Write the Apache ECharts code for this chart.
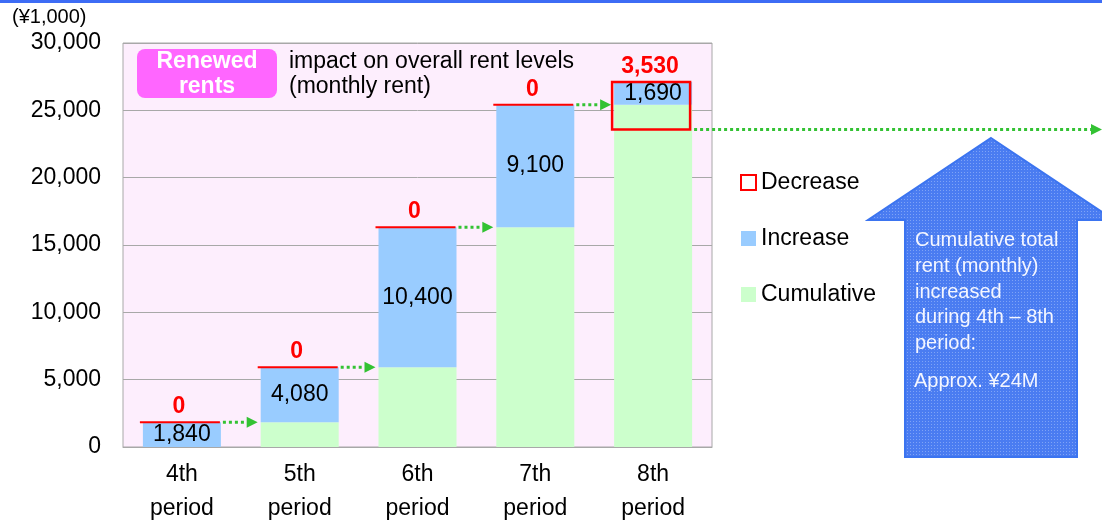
<!DOCTYPE html>
<html>
<head>
<meta charset="utf-8">
<script src="https://cdn.jsdelivr.net/npm/echarts@6/dist/echarts.min.js"></script>
<style>
  html, body { margin: 0; padding: 0; background: #fff; }
  #chart { width: 1102px; height: 524px; }
</style>
</head>
<body>
<div id="chart"></div>
<script>
// данные графика
const periods = ['4th\nperiod', '5th\nperiod', '6th\nperiod', '7th\nperiod', '8th\nperiod'];
const cumulative = [0, 1840, 5920, 16320, 25420];
const increase = [1840, 4080, 10400, 9100, 1690];
const decrease = [0, 0, 0, 0, 3530];
const yTicks = [0, 5000, 10000, 15000, 20000, 25000, 30000];

const FONT = '"Liberation Sans", Arial, sans-serif';
const FS = 23;
const GREEN_ARROW = '#33c233';
const BAR_W = 78;

function fmt(v) {
    return String(v).replace(/\B(?=(\d{3})+(?!\d))/g, ',');
}

const tops = cumulative.map((c, i) => c + increase[i]);

// текстура для большой синей стрелки
function makePattern() {
    const c = document.createElement('canvas');
    c.width = 3; c.height = 3;
    const ctx = c.getContext('2d');
    ctx.fillStyle = '#4a7cf1';
    ctx.fillRect(0, 0, 3, 3);
    ctx.fillStyle = '#7ea3f6';
    ctx.fillRect(1, 1, 1, 1);
    return c;
}

const chart = echarts.init(document.getElementById('chart'), null, { renderer: 'canvas' });

// красные маркеры уменьшения (линия или рамка) с подписью сверху
function renderDecrease(params, api) {
    const idx = api.value(0);
    const top = api.value(1);
    const dec = api.value(2);
    const p = api.coord([idx, top]);
    const x0 = p[0] - BAR_W / 2;
    const children = [];
    if (dec === 0) {
        children.push({
            type: 'line',
            shape: { x1: x0 - 3, y1: p[1], x2: x0 + BAR_W - 1, y2: p[1] },
            style: { stroke: '#ff0000', lineWidth: 2 }
        });
    } else {
        const pb = api.coord([idx, top - dec]);
        children.push({
            type: 'rect',
            shape: { x: x0 - 2, y: p[1], width: BAR_W, height: pb[1] - p[1] },
            style: { stroke: '#ff0000', lineWidth: 2.5, fill: 'none' }
        });
    }
    children.push({
        type: 'text',
        style: {
            text: fmt(dec), x: p[0] - 3, y: p[1] - 4,
            align: 'center', verticalAlign: 'bottom',
            fill: '#ff0000', font: 'bold ' + FS + 'px ' + FONT
        }
    });
    return { type: 'group', children: children };
}

// зелёные пунктирные стрелки между столбцами
function renderArrow(params, api) {
    const idx = api.value(0);
    const level = api.value(1);
    const p = api.coord([idx, level]);
    const xs = p[0] + BAR_W / 2 + 2;
    let xe;
    if (idx < periods.length - 1) {
        xe = api.coord([idx + 1, level])[0] - BAR_W / 2 - 3;
    } else {
        xe = 1102;
    }
    const head = 11;
    return {
        type: 'group',
        children: [
            {
                type: 'line',
                shape: { x1: xs, y1: p[1], x2: xe - head, y2: p[1] },
                style: { stroke: GREEN_ARROW, lineWidth: 3, lineDash: [3, 3] }
            },
            {
                type: 'polygon',
                shape: { points: [[xe - head, p[1] - 5.5], [xe, p[1]], [xe - head, p[1] + 5.5]] },
                style: { fill: GREEN_ARROW }
            }
        ]
    };
}

const decData = periods.map((_, i) => [i, tops[i], decrease[i]]);
const arrowData = periods.map((_, i) => [i, tops[i] - decrease[i]]);

const option = {
    animation: false,
    textStyle: { fontFamily: FONT },
    grid: {
        left: 123, right: 390, top: 43, bottom: 77,
        outerBoundsMode: 'none',
        show: true, backgroundColor: '#fdeefd', borderColor: '#a8a8a8', borderWidth: 1
    },
    legend: {
        orient: 'vertical', left: 735, top: 166, itemGap: 33,
        itemWidth: 15, itemHeight: 15,
        textStyle: { fontSize: FS, color: '#000', fontFamily: FONT },
        data: [
            { name: 'Decrease', icon: 'rect', itemStyle: { color: '#ffffff', borderColor: '#ff0000', borderWidth: 2 } },
            { name: 'Increase', icon: 'rect' },
            { name: 'Cumulative', icon: 'rect' }
        ]
    },
    xAxis: {
        type: 'category',
        data: periods,
        axisLine: { lineStyle: { color: '#a8a8a8' } },
        axisTick: { show: false },
        axisLabel: { fontSize: FS, color: '#000', lineHeight: 34, margin: 11, fontFamily: FONT }
    },
    yAxis: {
        type: 'value',
        min: yTicks[0], max: yTicks[yTicks.length - 1], interval: 5000,
        axisLine: { show: false },
        axisTick: { show: false },
        splitLine: { lineStyle: { color: '#a8a8a8' } },
        axisLabel: { fontSize: FS, color: '#000', margin: 22, formatter: v => fmt(v), fontFamily: FONT }
    },
    series: [
        {
            name: 'Cumulative', type: 'bar', stack: 'total', barWidth: BAR_W,
            itemStyle: { color: '#ccffcc' },
            data: cumulative
        },
        {
            name: 'Increase', type: 'bar', stack: 'total', barWidth: BAR_W,
            itemStyle: { color: '#99ccff' },
            label: {
                show: true, position: 'inside', color: '#000', fontSize: FS, fontFamily: FONT,
                formatter: p => fmt(p.value)
            },
            data: increase
        },
        {
            name: 'Decrease', type: 'custom', renderItem: renderDecrease,
            itemStyle: { color: '#ffffff', borderColor: '#ff0000' },
            data: decData, clip: false, z: 5
        },
        {
            name: 'arrows', type: 'custom', renderItem: renderArrow,
            data: arrowData, clip: false, z: 4, silent: true
        }
    ],
    graphic: [
        { type: 'rect', shape: { x: 0, y: 0, width: 1102, height: 3 }, style: { fill: '#3d6cf5' } },
        {
            type: 'text', left: 12, top: 7,
            style: { text: '(¥1,000)', font: '20px ' + FONT, fill: '#000' }
        },
        {
            type: 'rect', shape: { x: 137, y: 49, width: 140, height: 49, r: 8 },
            style: { fill: '#ff66ff' }, z: 10
        },
        {
            type: 'text', z: 11,
            style: {
                text: 'Renewed\nrents', x: 207, y: 74.5, align: 'center', verticalAlign: 'middle',
                font: 'bold ' + FS + 'px ' + FONT, fill: '#ffffff', lineHeight: 25
            }
        },
        {
            type: 'text', z: 11,
            style: {
                text: 'impact on overall rent levels\n(monthly rent)', x: 289, y: 74.5,
                verticalAlign: 'middle', font: FS + 'px ' + FONT, fill: '#000', lineHeight: 25
            }
        },
        {
            type: 'polygon', z: 10,
            shape: { points: [[991, 138], [1114, 220], [1077, 220], [1077, 457], [905, 457], [905, 220], [868, 220]] },
            style: { fill: { image: makePattern(), repeat: 'repeat' }, stroke: '#3b74f0', lineWidth: 2 }
        },
        {
            type: 'text', z: 11,
            style: {
                text: 'Cumulative total\nrent (monthly)\nincreased\nduring 4th – 8th\nperiod:',
                x: 915, y: 228, font: '20px ' + FONT, fill: '#f4f6ff', lineHeight: 25.7
            }
        },
        {
            type: 'text', z: 11,
            style: { text: 'Approx. ¥24M', x: 914, y: 371, font: '20px ' + FONT, fill: '#f4f6ff' }
        }
    ]
};

chart.setOption(option);
</script>
</body>
</html>
